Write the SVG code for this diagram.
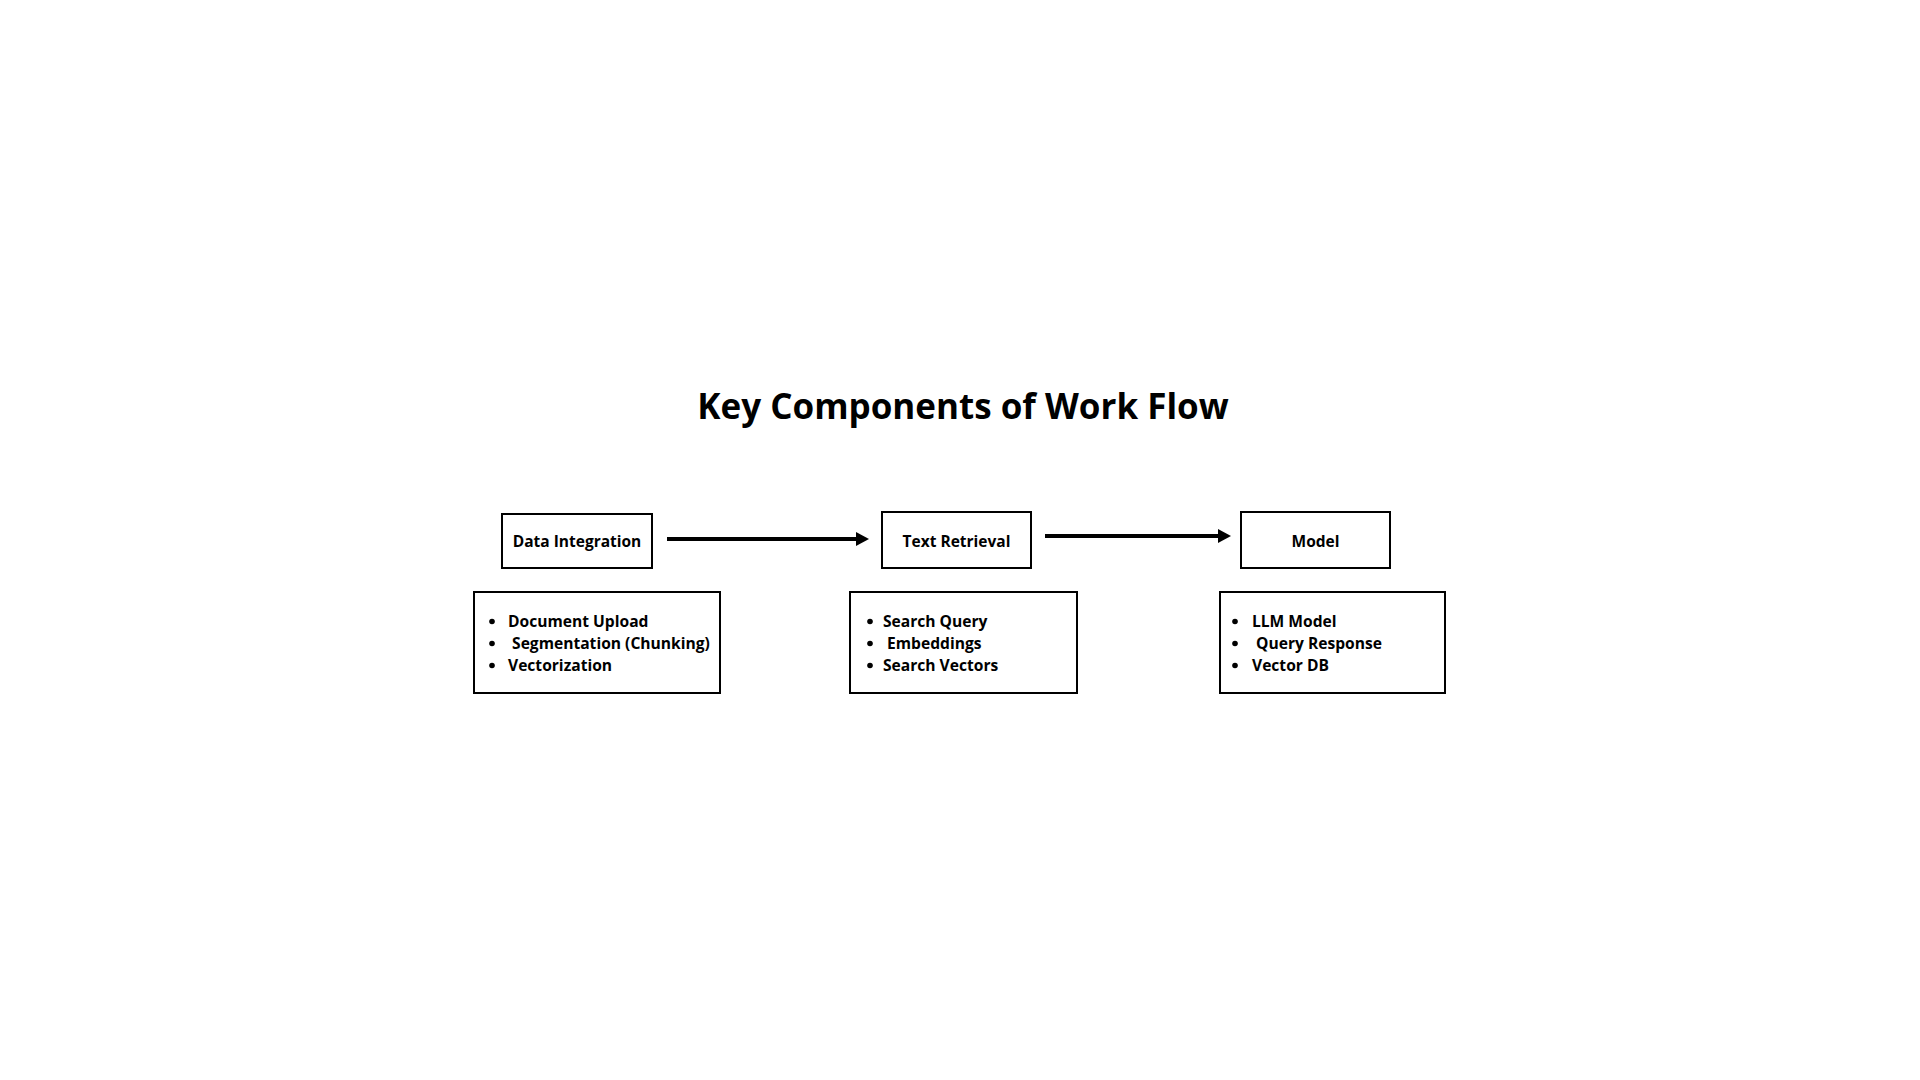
<svg xmlns="http://www.w3.org/2000/svg" width="1920" height="1080" viewBox="0 0 1920 1080">
<style>
  text { font-family: "Open Sans", "Liberation Sans", sans-serif; font-weight: 700; fill: #000; }
  .title { font-size: 35px; text-anchor: middle; }
  .label { font-size: 15.5px; text-anchor: middle; }
  .item { font-size: 15.6px; }
  .box { fill: #fff; stroke: #000; stroke-width: 2; }
  .conn { stroke: #000; stroke-width: 4; fill: none; marker-end: url(#head); }
  .dot { fill: #000; }
</style>
<defs>
  <marker id="head" markerUnits="userSpaceOnUse" markerWidth="14" markerHeight="16" refX="0" refY="8" orient="auto">
    <path d="M0,1 L13,8 L0,15 Z" fill="#000"/>
  </marker>
</defs>
<rect width="1920" height="1080" fill="#fff"/>
<text id="title" class="title" x="963" y="419">Key Components of Work Flow</text>

<g id="connectors">
  <line class="conn" x1="667" y1="539" x2="856" y2="539"/>
  <line class="conn" x1="1045" y1="536" x2="1218" y2="536"/>
</g>

<g id="data-integration">
  <rect class="box" x="502" y="514" width="150" height="54"/>
  <text class="label" x="577" y="547">Data Integration</text>
</g>
<g id="text-retrieval">
  <rect class="box" x="882" y="512" width="149" height="56"/>
  <text class="label" x="956.5" y="547">Text Retrieval</text>
</g>
<g id="model">
  <rect class="box" x="1241" y="512" width="149" height="56"/>
  <text class="label" x="1315.5" y="547">Model</text>
</g>

<g id="data-integration-details">
  <rect class="box" x="474" y="592" width="246" height="101"/>
  <circle class="dot" cx="492" cy="621.5" r="2.8"/>
  <circle class="dot" cx="492" cy="643.5" r="2.8"/>
  <circle class="dot" cx="492" cy="665.5" r="2.8"/>
  <text class="item" x="508" y="627">Document Upload</text>
  <text class="item" x="508" y="649" xml:space="preserve"> Segmentation (Chunking)</text>
  <text class="item" x="508" y="671">Vectorization</text>
</g>
<g id="text-retrieval-details">
  <rect class="box" x="850" y="592" width="227" height="101"/>
  <circle class="dot" cx="870" cy="621.5" r="2.8"/>
  <circle class="dot" cx="870" cy="643.5" r="2.8"/>
  <circle class="dot" cx="870" cy="665.5" r="2.8"/>
  <text class="item" x="883" y="627">Search Query</text>
  <text class="item" x="883" y="649" xml:space="preserve"> Embeddings</text>
  <text class="item" x="883" y="671">Search Vectors</text>
</g>
<g id="model-details">
  <rect class="box" x="1220" y="592" width="225" height="101"/>
  <circle class="dot" cx="1235" cy="621.5" r="2.8"/>
  <circle class="dot" cx="1235" cy="643.5" r="2.8"/>
  <circle class="dot" cx="1235" cy="665.5" r="2.8"/>
  <text class="item" x="1252" y="627">LLM Model</text>
  <text class="item" x="1252" y="649" xml:space="preserve"> Query Response</text>
  <text class="item" x="1252" y="671">Vector DB</text>
</g>
</svg>
